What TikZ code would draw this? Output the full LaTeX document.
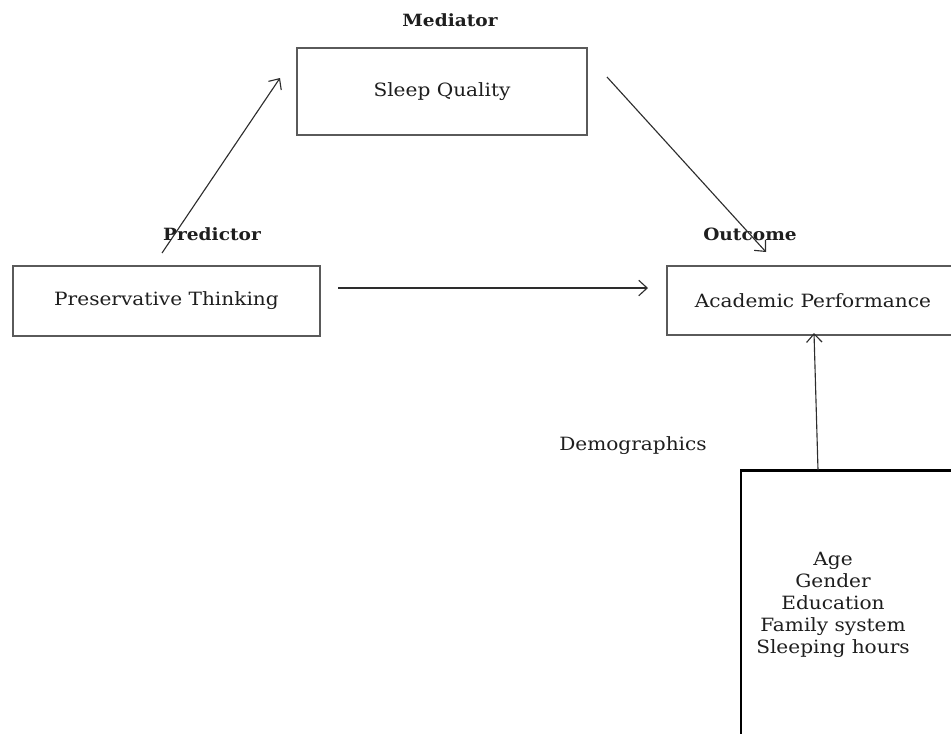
\documentclass[tikz,border=0pt]{standalone}
\usepackage{fontspec}
\setmainfont{DejaVu Serif}[FakeStretch=1.1]
\usepackage{tikz}
\usetikzlibrary{positioning, arrows.meta}
\definecolor{boxCol}{RGB}{90, 90, 90}
\definecolor{lineCol}{RGB}{45, 45, 45}
\definecolor{textCol}{RGB}{30, 30, 30}
\tikzset{myBox/.style={draw=boxCol, line width=1.4pt, text=textCol, font=\fontsize{13}{15}\selectfont}}
\tikzset{myDemoBox/.style={draw=black, line width=2.1pt}}
\tikzset{myLabel/.style={text=textCol, font=\fontsize{13}{15}\selectfont}}
\tikzset{myHead/.style={text=textCol, font=\bfseries\fontsize{12}{14}\selectfont}}
\tikzset{myArrow/.style={draw=lineCol, line width=0.8pt, -{Straight Barb[length=6pt, width=11pt]}}}

\begin{document}
\begin{tikzpicture}[x=0.025cm, y=-0.025cm]
		\useasboundingbox (0,0) rectangle (951,733);
		\clip (0,0) rectangle (951,733);
		% boxes
		\node[myBox, minimum width=7.25cm, minimum height=2.175cm] (sleep) at (442,91.5) {Sleep Quality};
		\node[myBox, minimum width=7.675cm, minimum height=1.75cm] (pred) at (166.5,301) {Preservative Thinking};
		\node[myBox, minimum width=7.3cm, minimum height=1.725cm] (acad) at (813,300.5) {Academic Performance};
		\node[myDemoBox, minimum width=6.475cm, minimum height=8.225cm] (demo) at (870.5,635.5) {};
		\node[myLabel, align=center, font=\fontsize{13}{15.7}\selectfont] (demoList) at (833,605) {Age\\Gender\\Education\\Family system\\Sleeping hours};
		% headings
		\node[myHead] (med) at (450,20) {Mediator};
		\node[myHead] (predHead) at (212,234) {Predictor};
		\node[myHead] (outHead) at (750,234) {Outcome};
		\node[myLabel] (demoHead) at (633,446) {Demographics};
		% paths
		\coordinate (a) at (162,253);
		\coordinate (a') at (280,78);
		\coordinate (b) at (607,77);
		\coordinate (b') at (766,252);
		\coordinate (c) at (338,288);
		\coordinate (c') at (648,288);
		\coordinate (d) at (818,470);
		\coordinate (d') at (814,333);
		\draw[myArrow](a) -- (a');
		\draw[myArrow](b) -- (b');
		\draw[myArrow](c) -- (c');
		\draw[myArrow](d) -- (d');
	\end{tikzpicture}
\end{document}
